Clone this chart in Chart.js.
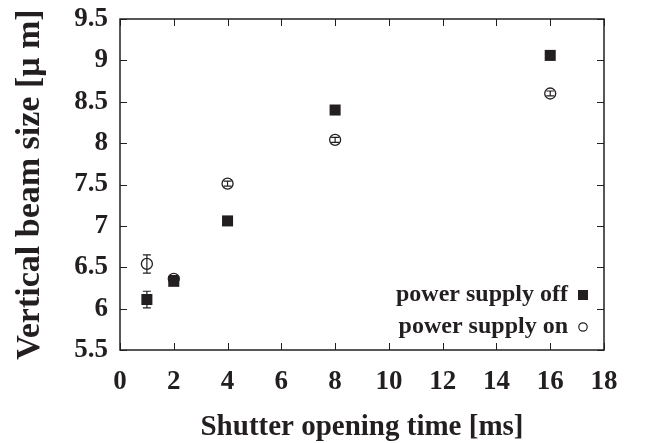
<!DOCTYPE html>
<html>
<head>
<meta charset="utf-8">
<script src="https://cdn.jsdelivr.net/npm/chart.js@4.4.1/dist/chart.umd.min.js"></script>
<style>
  html, body { margin: 0; padding: 0; background: #fff; }
  #wrap { width: 663px; height: 443px; position: relative; }
</style>
</head>
<body>
<div id="wrap"><canvas id="c" width="663" height="443"></canvas></div>
<script>
// ---- data ----
const shutterTimes = [1, 2, 4, 8, 16];
const offValues = [6.11, 6.33, 7.06, 8.40, 9.06];
const offErrors = [0.10, 0.03, 0.02, 0.02, 0.02];
const onValues = [6.54, 6.36, 7.51, 8.04, 8.60];
const onErrors = [0.11, 0.04, 0.03, 0.03, 0.03];
const xTickValues = [0, 2, 4, 6, 8, 10, 12, 14, 16, 18];
const yTickValues = [5.5, 6, 6.5, 7, 7.5, 8, 8.5, 9, 9.5];
const seriesLabels = ['power supply off', 'power supply on'];
const xTitle = 'Shutter opening time [ms]';
const yTitle = 'Vertical beam size [\u03bc m]';

const FONT = '"Liberation Serif", "Times New Roman", serif';
const INK = '#231f20';

const offData = shutterTimes.map((x, i) => ({ x, y: offValues[i], e: offErrors[i] }));
const onData = shutterTimes.map((x, i) => ({ x, y: onValues[i], e: onErrors[i] }));

// error bars drawn through the scales
const errorBars = {
  id: 'errorBars',
  beforeDatasetsDraw(chart) {
    const ctx = chart.ctx;
    const xs = chart.scales.x, ys = chart.scales.y;
    ctx.save();
    ctx.strokeStyle = INK;
    ctx.lineWidth = 1.2;
    chart.data.datasets.forEach(ds => {
      ds.data.forEach(p => {
        const px = xs.getPixelForValue(p.x);
        const y1 = ys.getPixelForValue(p.y - p.e);
        const y2 = ys.getPixelForValue(p.y + p.e);
        ctx.beginPath();
        ctx.moveTo(px, y1); ctx.lineTo(px, y2);
        ctx.moveTo(px - 4, y1); ctx.lineTo(px + 4, y1);
        ctx.moveTo(px - 4, y2); ctx.lineTo(px + 4, y2);
        ctx.stroke();
      });
    });
    ctx.restore();
  }
};

// frame, mirrored inward ticks, legend
const frame = {
  id: 'frame',
  afterDraw(chart) {
    const ctx = chart.ctx;
    const a = chart.chartArea;
    const xs = chart.scales.x, ys = chart.scales.y;
    ctx.save();
    ctx.strokeStyle = INK;
    ctx.lineWidth = 1.5;
    ctx.strokeRect(a.left, a.top, a.right - a.left, a.bottom - a.top);
    ctx.lineWidth = 1;
    const tl = 7;
    ctx.beginPath();
    xTickValues.forEach(v => {
      const px = Math.round(xs.getPixelForValue(v)) + 0.5;
      ctx.moveTo(px, a.bottom); ctx.lineTo(px, a.bottom - tl);
      ctx.moveTo(px, a.top); ctx.lineTo(px, a.top + tl);
    });
    yTickValues.forEach(v => {
      const py = Math.round(ys.getPixelForValue(v)) + 0.5;
      ctx.moveTo(a.left, py); ctx.lineTo(a.left + tl, py);
      ctx.moveTo(a.right, py); ctx.lineTo(a.right - tl, py);
    });
    ctx.stroke();

    // legend
    ctx.font = 'bold 24px ' + FONT;
    ctx.fillStyle = INK;
    ctx.textAlign = 'right';
    ctx.textBaseline = 'middle';
    const tx = a.right - 36, mx = a.right - 21;
    const rows = [a.bottom - 55, a.bottom - 23];
    chart.data.datasets.forEach((ds, i) => {
      ctx.fillText(ds.label, tx, rows[i]);
    });
    // markers
    ctx.fillRect(mx - 5, rows[0] - 5, 10, 10);
    ctx.beginPath();
    ctx.lineWidth = 1.2;
    ctx.arc(mx, rows[1], 4.2, 0, Math.PI * 2);
    ctx.stroke();
    ctx.restore();
  }
};

new Chart(document.getElementById('c'), {
  type: 'scatter',
  data: {
    datasets: [
      {
        label: seriesLabels[0],
        data: offData,
        pointStyle: 'rect',
        pointRadius: 7.8,
        pointHoverRadius: 7.8,
        backgroundColor: INK,
        borderColor: INK,
        borderWidth: 0
      },
      {
        label: seriesLabels[1],
        data: onData,
        pointStyle: 'circle',
        pointRadius: 5.5,
        pointHoverRadius: 5.5,
        backgroundColor: 'rgba(255,255,255,0)',
        borderColor: INK,
        borderWidth: 1.3
      }
    ]
  },
  options: {
    responsive: false,
    animation: false,
    events: [],
    layout: { padding: { top: 19, right: 59, left: 0, bottom: 0 } },
    plugins: { legend: { display: false }, tooltip: { enabled: false } },
    scales: {
      x: {
        type: 'linear',
        min: 0, max: 18,
        afterBuildTicks(s) { s.ticks = xTickValues.map(v => ({ value: v })); },
        afterFit(s) { s.height = 93; s.paddingLeft = 0; s.paddingRight = 0; },
        grid: { display: false, drawTicks: false },
        border: { display: false },
        ticks: {
          color: INK,
          font: { family: FONT, size: 27, weight: 'bold' },
          padding: 16,
          maxRotation: 0,
          autoSkip: false
        },
        title: {
          display: true,
          text: xTitle,
          color: INK,
          font: { family: FONT, size: 29, weight: 'bold', lineHeight: 1.0 },
          padding: { top: 0, bottom: 1 }
        }
      },
      y: {
        type: 'linear',
        min: 5.5, max: 9.5,
        afterBuildTicks(s) { s.ticks = yTickValues.map(v => ({ value: v })); },
        afterFit(s) { s.width = 120; s.paddingTop = 0; s.paddingBottom = 0; },
        grid: { display: false, drawTicks: false },
        border: { display: false },
        ticks: {
          color: INK,
          font: { family: FONT, size: 27, weight: 'bold' },
          padding: 12,
          autoSkip: false,
          callback: v => String(v)
        },
        title: {
          display: true,
          text: yTitle,
          color: INK,
          font: { family: FONT, size: 34, weight: 'bold', lineHeight: 1.0 },
          padding: { top: 13, bottom: 0 }
        }
      }
    }
  },
  plugins: [errorBars, frame]
});
</script>
</body>
</html>
